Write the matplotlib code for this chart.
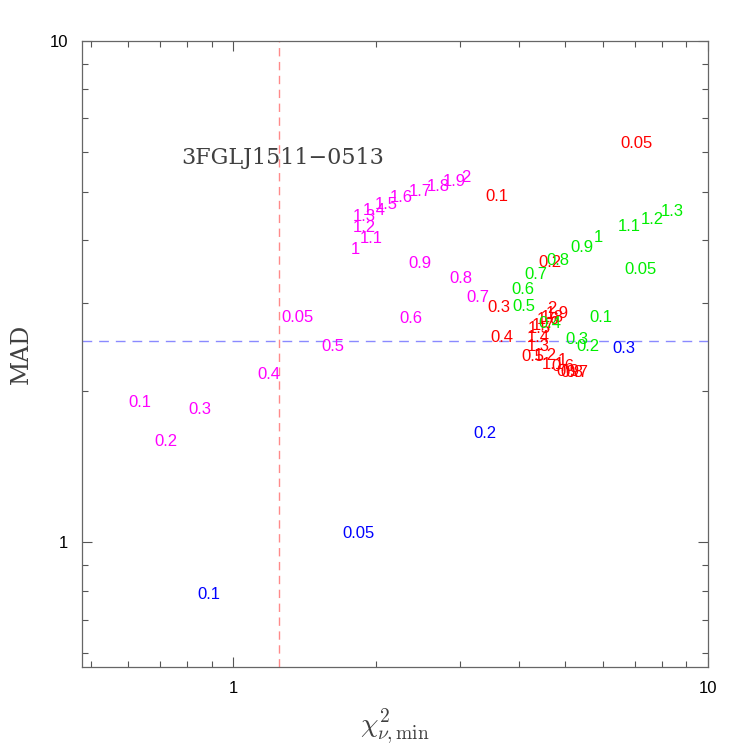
import matplotlib
matplotlib.use("Agg")
import matplotlib.pyplot as plt
from matplotlib.ticker import NullFormatter, FixedLocator, FixedFormatter

plt.rcParams['mathtext.fontset'] = 'cm'

# ---- data (label text, chi2_min, MAD) ----
mag_labels = ["0.05", "0.1", "0.2", "0.3", "0.4", "0.5", "0.6", "0.7", "0.8", "0.9",
              "1", "1.1", "1.2", "1.3", "1.4", "1.5", "1.6", "1.7", "1.8", "1.9", "2"]
mag_x = [1.365, 0.634, 0.719, 0.848, 1.185, 1.618, 2.363, 3.272, 3.012, 2.469,
         1.809, 1.955, 1.890, 1.890, 1.984, 2.102, 2.262, 2.469, 2.694, 2.926, 3.086]
mag_y = [2.80, 1.90, 1.59, 1.84, 2.155, 2.46, 2.787, 3.069, 3.349, 3.589,
         3.827, 4.025, 4.233, 4.454, 4.578, 4.707, 4.861, 4.997, 5.113, 5.232, 5.329]

red_labels = ["0.05", "0.1", "0.2", "0.3", "0.4", "0.5", "0.6", "0.7", "0.8", "0.9",
              "1", "1.1", "1.2", "1.3", "1.4", "1.5", "1.6", "1.7", "1.8", "1.9", "2"]
red_x = [7.049, 3.588, 4.642, 3.623, 3.676, 4.273, 4.944, 5.292, 5.166, 5.066,
         4.920, 4.710, 4.530, 4.379, 4.379, 4.400, 4.597, 4.486, 4.688, 4.802, 4.688]
red_y = [6.230, 4.883, 3.605, 2.932, 2.554, 2.340, 2.235, 2.175, 2.175, 2.185,
         2.298, 2.256, 2.351, 2.450, 2.554, 2.662, 2.774, 2.698, 2.800, 2.852, 2.918]

grn_labels = ["0.05", "0.1", "0.2", "0.3", "0.4", "0.5", "0.6", "0.7", "0.8", "0.9",
              "1", "1.1", "1.2", "1.3"]
grn_x = [7.187, 5.947, 5.582, 5.292, 4.642, 4.090, 4.071, 4.336, 4.826, 5.423,
         5.861, 6.813, 7.618, 8.395]
grn_y = [3.491, 2.800, 2.460, 2.531, 2.724, 2.945, 3.184, 3.412, 3.638, 3.863,
         4.045, 4.254, 4.392, 4.557]

blu_labels = ["0.05", "0.1", "0.2", "0.3"]
blu_x = [1.835, 0.886, 3.384, 6.650]
blu_y = [1.042, 0.784, 1.643, 2.428]

chi2_ref = 1.25
mad_ref = 2.52
source_name = "3FGLJ1511\u22120513"
name_x, name_y = 1.269, 5.84

xlim = (0.48, 10)
ylim = (0.563, 10)

# ---- figure ----
fig = plt.figure(figsize=(7.47, 7.47), dpi=100)
ax = fig.add_axes([0.110, 0.107, 0.838, 0.8385])
ax.set_xscale('log')
ax.set_yscale('log')
ax.set_xlim(*xlim)
ax.set_ylim(*ylim)

ax.axvline(chi2_ref, color='#ff8a8a', lw=1.0, dashes=(6, 4))
ax.axhline(mad_ref, color='#8a8aff', lw=1.0, dashes=(7, 5))

series = [
    (mag_labels, mag_x, mag_y, '#ff00ff'),
    (red_labels, red_x, red_y, '#ff0000'),
    (grn_labels, grn_x, grn_y, '#00ee00'),
    (blu_labels, blu_x, blu_y, '#0000ff'),
]
for labels, xs, ys, col in series:
    for lab, x, y in zip(labels, xs, ys):
        ax.text(x, y, lab, color=col, fontsize=12, family='Liberation Sans',
                ha='center', va='center')

ax.text(name_x, name_y, source_name, color='#404040', fontsize=16,
        family='DejaVu Serif', ha='center', va='center')

# ticks
ax.xaxis.set_major_locator(FixedLocator([1, 10]))
ax.xaxis.set_major_formatter(FixedFormatter(['1', '10']))
ax.xaxis.set_minor_locator(FixedLocator([0.5, 0.6, 0.7, 0.8, 0.9, 2, 3, 4, 5, 6, 7, 8, 9]))
ax.xaxis.set_minor_formatter(NullFormatter())
ax.yaxis.set_major_locator(FixedLocator([1, 10]))
ax.yaxis.set_major_formatter(FixedFormatter(['1', '10']))
ax.yaxis.set_minor_locator(FixedLocator([0.6, 0.7, 0.8, 0.9, 2, 3, 4, 5, 6, 7, 8, 9]))
ax.yaxis.set_minor_formatter(NullFormatter())

ax.tick_params(which='both', direction='in', top=True, right=True, color='#555555',
               width=0.8, labelsize=12)
ax.tick_params(which='major', length=7.5, pad=10)
ax.tick_params(which='minor', length=4)
for lab in ax.get_xticklabels() + ax.get_yticklabels():
    lab.set_family('Liberation Sans')
for s in ax.spines.values():
    s.set_color('#666666')
    s.set_linewidth(0.9)

ax.set_xlabel(r'$\chi^2_{\nu,\mathrm{min}}$', fontsize=20, color='#404040', labelpad=8)
ax.set_ylabel('MAD', fontsize=17, family='DejaVu Serif', color='#404040', labelpad=12)

fig.savefig('out.png', dpi=100)
